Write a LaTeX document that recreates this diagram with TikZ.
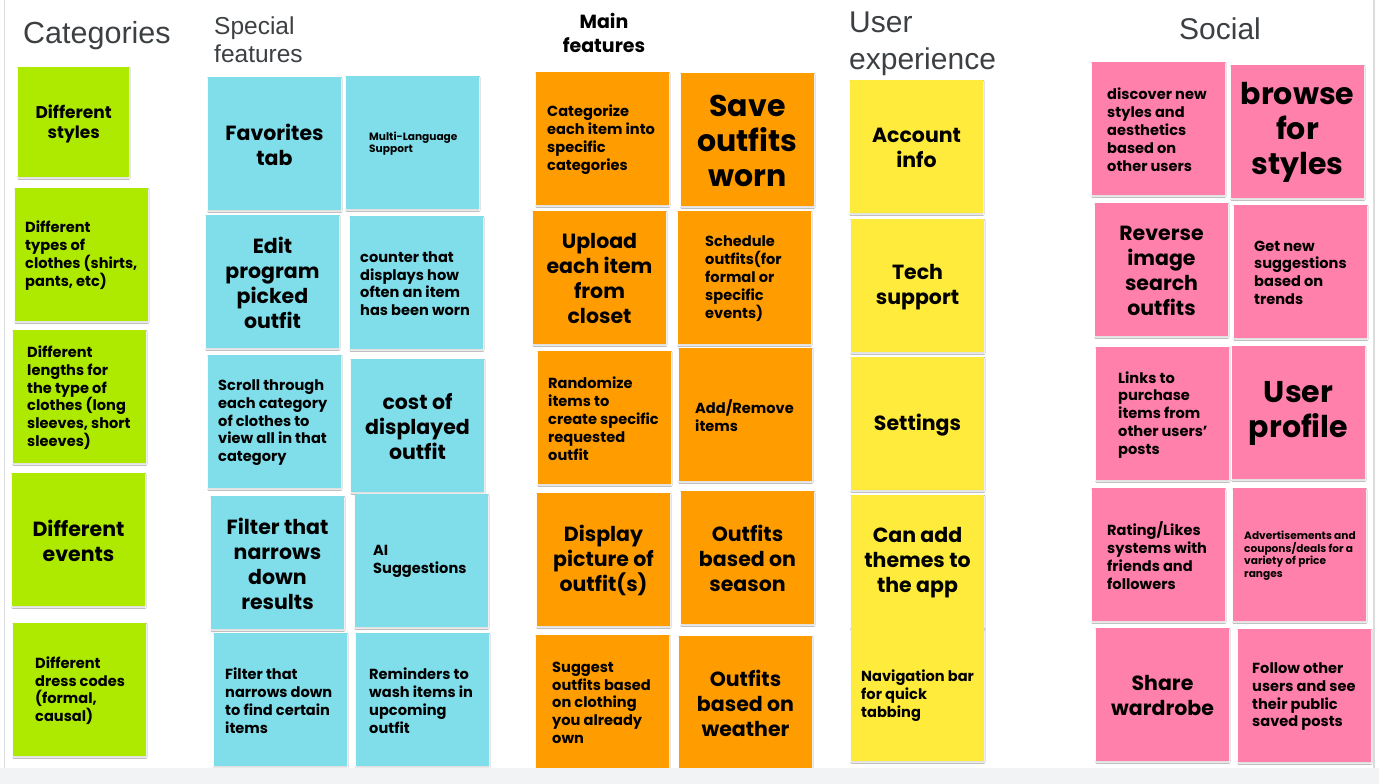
\documentclass[tikz,border=0pt]{standalone}
\usepackage{fontspec}
\setmainfont{Poppins}
\newfontfamily\headfont{Liberation Sans}
\usetikzlibrary{shadows.blur}

\definecolor{limeN}{HTML}{AEEA00}
\definecolor{cyanN}{HTML}{80DEEA}
\definecolor{orangeN}{HTML}{FF9D00}
\definecolor{yellowN}{HTML}{FFEB3B}
\definecolor{pinkN}{HTML}{FF80AB}
\definecolor{headgray}{HTML}{3C4043}
\definecolor{boardgray}{HTML}{F1F3F4}
\definecolor{edgegray}{HTML}{DADCE0}

\tikzset{
  note/.style={anchor=north west, minimum width=133pt, minimum height=133pt, inner sep=0pt,
    blur shadow={shadow xshift=0pt, shadow yshift=-1.2pt, shadow blur radius=1pt, shadow opacity=14}},
  ctr/.style={anchor=center, align=center, xshift=66.5pt, yshift=-1pt, inner sep=0pt},
  lft/.style={anchor=west, align=left, xshift=#1, yshift=-1pt, inner sep=0pt},
  big/.style={font=\fontsize{30}{35}\selectfont\bfseries},
  mid/.style={font=\fontsize{20.5}{25}\selectfont\bfseries},
  sm/.style={font=\fontsize{14.6}{17.8}\selectfont\bfseries},
  tiny/.style={font=\fontsize{10.6}{12.8}\selectfont\bfseries},
  head/.style={anchor=base west, inner sep=0pt, text=headgray, font=\headfont\fontsize{#1}{#1}\selectfont},
  mainhead/.style={anchor=base, inner sep=0pt, font=\fontsize{19}{24}\selectfont\bfseries},
}

% sticky note: name, colour, top-left corner, text placement, text
\newcommand\sticky[5]{%
  \node[note, fill=#2] (#1) at (#3) {};
  \node[#4] (#1-t) at (#1.west) {#5};}

\begin{document}
\begin{tikzpicture}[x=1pt, y=-1pt]
\useasboundingbox (0,0) rectangle (1379,784);
\fill[white] (0,0) rectangle (1379,784);

% column headings
\node[head=30.5] (hcat) at (23,44) {Categories};
\node[head=24.5] (hsp1) at (214,34.5) {Special};
\node[head=24.5] (hsp2) at (214,63) {features};
\node[mainhead] (hmf1) at (604,29) {Main};
\node[mainhead] (hmf2) at (604,53) {features};
\node[head=30] (hux1) at (849,33) {User};
\node[head=30] (hux2) at (849,70) {experience};
\node[head=30, anchor=base] (hso) at (1220,40) {Social};

% Categories
\node[note, fill=limeN, minimum width=111pt, minimum height=110pt] (cat1) at (18,67) {};
\node[anchor=center, align=center, inner sep=0pt, yshift=-1.5pt, font=\fontsize{17}{20}\selectfont\bfseries] (cat1-t) at (cat1.center) {Different\\styles};
\sticky{cat2}{limeN}{15,188}{lft=10pt, sm}{Different\\types of\\clothes (shirts,\\pants, etc)}
\sticky{cat3}{limeN}{13,330}{lft=14pt, sm}{Different\\lengths for\\the type of\\clothes (long\\sleeves, short\\sleeves)}
\sticky{cat4}{limeN}{12,473}{ctr, mid}{Different\\events}
\sticky{cat5}{limeN}{13,623}{lft=22pt, sm}{Different\\dress codes\\(formal,\\causal)}

% Special features
\sticky{sp1}{cyanN}{208,77}{ctr, mid}{Favorites\\tab}
\sticky{sp2}{cyanN}{346,76}{lft=23pt, tiny}{Multi-Language\\Support}
\sticky{sp3}{cyanN}{206,215}{ctr, mid}{Edit\\program\\picked\\outfit}
\sticky{sp4}{cyanN}{350,216}{lft=10pt, sm}{counter that\\displays how\\often an item\\has been worn}
\sticky{sp5}{cyanN}{208,355}{lft=10pt, sm}{Scroll through\\each category\\of clothes to\\view all in that\\category}
\sticky{sp6}{cyanN}{351,359}{ctr, mid}{cost of\\displayed\\outfit}
\sticky{sp7}{cyanN}{211,496}{ctr, mid}{Filter that\\narrows\\down\\results}
\sticky{sp8}{cyanN}{355,494}{lft=18pt, sm}{AI\\Suggestions}
\sticky{sp9}{cyanN}{214,633}{lft=11pt, sm}{Filter that\\narrows down\\to find certain\\items}
\sticky{sp10}{cyanN}{356,633}{lft=13pt, sm}{Reminders to\\wash items in\\upcoming\\outfit}

% Main features
\sticky{mf1}{orangeN}{536,72}{lft=11pt, sm}{Categorize\\each item into\\specific\\categories}
\sticky{mf2}{orangeN}{681,73}{ctr, big}{Save\\outfits\\worn}
\sticky{mf3}{orangeN}{533,211}{ctr, mid}{Upload\\each item\\from\\closet}
\sticky{mf4}{orangeN}{678,211}{lft=27pt, sm}{Schedule\\outfits(for\\formal or\\specific\\events)}
\sticky{mf5}{orangeN}{538,351}{lft=10pt, sm}{Randomize\\items to\\create specific\\requested\\outfit}
\sticky{mf6}{orangeN}{679,348}{lft=16pt, sm}{Add/Remove\\items}
\sticky{mf7}{orangeN}{537,493}{ctr, mid}{Display\\picture of\\outfit(s)}
\sticky{mf8}{orangeN}{681,491}{ctr, mid}{Outfits\\based on\\season}
\sticky{mf9}{orangeN}{536,635}{lft=16pt, sm}{Suggest\\outfits based\\on clothing\\you already\\own}
\sticky{mf10}{orangeN}{679,636}{ctr, mid}{Outfits\\based on\\weather}

% User experience
\sticky{ux1}{yellowN}{850,80}{ctr, mid}{Account\\info}
\sticky{ux2}{yellowN}{851,219}{ctr, mid}{Tech\\support}
\sticky{ux3}{yellowN}{851,357}{ctr, mid}{Settings}
\sticky{ux4}{yellowN}{851,495}{ctr, mid}{Can add\\themes to\\the app}
\sticky{ux5}{yellowN}{851,628}{lft=10pt, sm}{Navigation bar\\for quick\\tabbing}

% Social
\sticky{so1}{pinkN}{1092,62}{lft=15pt, sm}{discover new\\styles and\\aesthetics\\based on\\other users}
\sticky{so2}{pinkN}{1231,65}{ctr, big}{browse\\for\\styles}
\sticky{so3}{pinkN}{1095,203}{ctr, mid}{Reverse\\image\\search\\outfits}
\sticky{so4}{pinkN}{1234,205}{lft=20pt, sm}{Get new\\suggestions\\based on\\trends}
\sticky{so5}{pinkN}{1096,347}{lft=22pt, sm}{Links to\\purchase\\items from\\other users{\char39}\\posts}
\sticky{so6}{pinkN}{1232,346}{ctr, big}{User\\profile}
\sticky{so7}{pinkN}{1092,488}{lft=15pt, sm}{Rating/Likes\\systems with\\friends and\\followers}
\sticky{so8}{pinkN}{1233,488}{lft=11pt, tiny}{Advertisements and\\coupons/deals for a\\variety of price\\ranges}
\sticky{so9}{pinkN}{1096,628}{ctr, mid}{Share\\wardrobe}
\sticky{so10}{pinkN}{1238,629}{lft=14pt, sm}{Follow other\\users and see\\their public\\saved posts}

% board edges
\fill[edgegray] (3.5,0) rectangle (5,768);
\fill[edgegray] (1373,0) rectangle (1375,768);
\fill[boardgray] (0,768) rectangle (1379,784);
\end{tikzpicture}
\end{document}
